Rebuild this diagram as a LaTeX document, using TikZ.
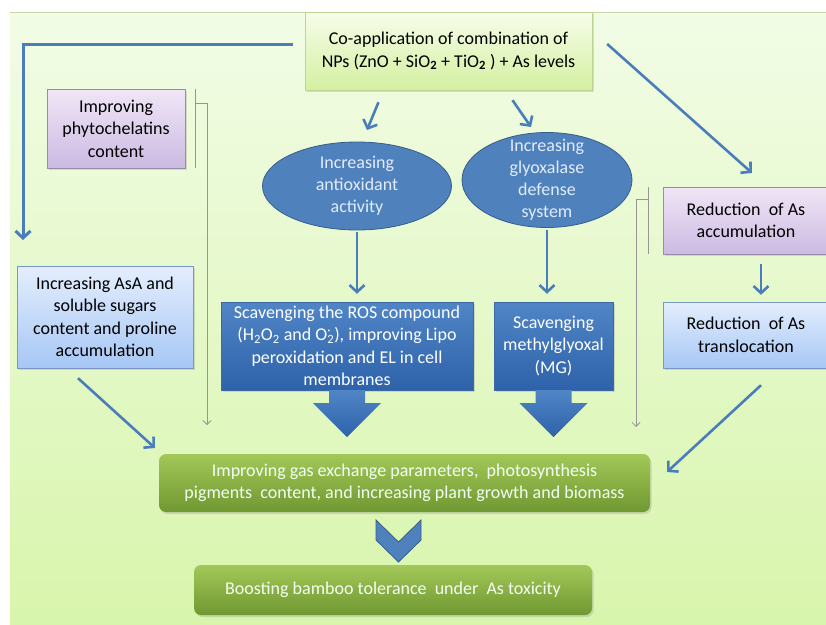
\documentclass[tikz,border=0pt]{standalone}
\usepackage{fontspec}
\setmainfont{Carlito}
\usepackage{xcolor}
\usepackage{tikz}
\usetikzlibrary{shapes.geometric, arrows.meta, positioning, shadows}

\definecolor{bgtop}{RGB}{242,252,230}
\definecolor{bgbottom}{RGB}{216,245,172}
\definecolor{bgedge}{RGB}{200,214,170}
\definecolor{arrowblue}{RGB}{74,126,187}
\definecolor{ovalblue}{RGB}{79,129,189}
\definecolor{ovalline}{RGB}{56,93,138}
\definecolor{deeptop}{RGB}{80,133,198}
\definecolor{deepbottom}{RGB}{46,98,170}
\definecolor{deepline}{RGB}{62,104,165}
\definecolor{srctop}{RGB}{247,253,234}
\definecolor{srcbottom}{RGB}{212,240,160}
\definecolor{srcline}{RGB}{188,212,148}
\definecolor{lilactop}{RGB}{240,230,246}
\definecolor{lilacbottom}{RGB}{204,186,226}
\definecolor{lilacline}{RGB}{150,140,172}
\definecolor{skytop}{RGB}{228,238,253}
\definecolor{skybottom}{RGB}{166,199,245}
\definecolor{skyline}{RGB}{122,150,196}
\definecolor{leaftop}{RGB}{163,200,88}
\definecolor{leafbottom}{RGB}{112,152,50}
\definecolor{thingray}{RGB}{150,150,150}
\definecolor{ovalink}{RGB}{226,236,250}

\tikzstyle{basebox} = [
    rectangle, align=center, inner sep=2pt,
    font=\fontsize{18}{22.5}\selectfont,
    drop shadow={shadow xshift=1.5pt, shadow yshift=-2pt, opacity=0.25}
]
\tikzstyle{sourcebox} = [basebox, draw=srcline, top color=srctop, bottom color=srcbottom]
\tikzstyle{lilacbox} = [basebox, draw=lilacline, top color=lilactop, bottom color=lilacbottom]
\tikzstyle{skybox} = [basebox, draw=skyline, top color=skytop, bottom color=skybottom]
\tikzstyle{deepbox} = [basebox, draw=deepline, top color=deeptop, bottom color=deepbottom, text=white]
\tikzstyle{leafbox} = [basebox, rounded corners=7pt, draw=none, top color=leaftop, bottom color=leafbottom, text=white!95!green]
\tikzstyle{oval} = [ellipse, draw=ovalline, thick, fill=ovalblue, inner sep=0pt]
\tikzstyle{ovaltext} = [align=center, text=ovalink, font=\fontsize{18}{22}\selectfont]
\tikzstyle{flowarrow} = [line width=2.6pt, draw=arrowblue, -{Straight Barb[length=7pt, width=15pt]}]
\tikzstyle{thinline} = [line width=0.8pt, draw=thingray]
\tikzstyle{thinarrow} = [thinline, -{Straight Barb[length=4pt, width=8pt]}]
\tikzstyle{blockarrow} = [top color=deeptop, bottom color=deepbottom]
\tikzstyle{chevron} = [fill=ovalblue, draw=ovalline, thick, line join=miter]

\begin{document}
\begin{tikzpicture}[x=1pt, y=-1pt]
    \useasboundingbox (0,0) rectangle (826,624);
    \shade [top color=bgtop, bottom color=bgbottom] (10,12) rectangle (826,624);
    \draw [bgedge, line width=1pt] (10,12) -- (826,12);

    \node [sourcebox, minimum width=287pt, minimum height=78pt] (coapp) at (448.5,51)
        {Co-application of combination of\\NPs (ZnO + SiO\textsubscript{\textbf{2}} + TiO\textsubscript{\textbf{2}} ) + As levels};
    \node [lilacbox, minimum width=138pt, minimum height=79pt] (pc) at (116,128.5)
        {Improving\\phytochelatins\\content};
    \node [skybox, minimum width=176pt, minimum height=102pt] (asa) at (105,317)
        {Increasing AsA and\\soluble sugars\\content and proline\\accumulation};
    \node [oval, minimum width=189pt, minimum height=88pt,
        label={[ovaltext]center:Increasing\\antioxidant\\activity}] (anti) at (357,186) {};
    \node [oval, minimum width=170pt, minimum height=95pt,
        label={[ovaltext]center:Increasing\\glyoxalase\\defense\\system}] (glyo) at (547,180) {};
    \node [deepbox, minimum width=252pt, minimum height=88pt] (ros) at (347,346)
        {Scavenging the ROS compound\\(H\textsubscript{2}O\textsubscript{2} and O\rlap{\textsuperscript{\textperiodcentered}}\textsubscript{2}), improving Lipo\\peroxidation and EL in cell\\membranes};
    \node [deepbox, minimum width=119pt, minimum height=88pt] (mg) at (553.5,346)
        {Scavenging\\methylglyoxal\\(MG)};
    \node [lilacbox, minimum width=166pt, minimum height=67pt] (redacc) at (746,220.5)
        {Reduction~ of As\\accumulation};
    \node [skybox, minimum width=166pt, minimum height=66pt] (redtrans) at (746,335)
        {Reduction~ of As\\translocation};
    \node [leafbox, minimum width=491pt, minimum height=58pt] (gas) at (404.5,483)
        {Improving gas exchange parameters,~ photosynthesis\\pigments~ content, and increasing plant growth and biomass};
    \node [leafbox, minimum width=398pt, minimum height=50pt] (boost) at (393,590)
        {Boosting bamboo tolerance~ under~ As toxicity};

    \foreach \n in {ros, mg}
        \path [blockarrow] (\n.south) ++(-18,0) -- ++(0,13) -- ++(-16,0) -- ++(34,34)
            -- ++(34,-34) -- ++(-16,0) -- ++(0,-13) -- cycle;
    \coordinate (chev) at (398.5,520);
    \path [chevron] (chev) ++(-22.5,0) -- ++(0,20) -- ++(22.5,22) -- ++(22.5,-22)
        -- ++(0,-20) -- ++(-22.5,22) -- cycle;

    \coordinate (leftend) at (23,240);
    \coordinate (accend) at (752,173);
    \coordinate (antitip) at (367,130);
    \coordinate (glyotip) at (531,127);
    \coordinate (gasright) at (667,472);
    \coordinate (gasleft) at (155,448);
    \coordinate (pcdrop) at (207,425);
    \coordinate (accdrop) at (636,427);

    \draw [flowarrow, line width=3pt, shorten <=12pt] ([yshift=7pt]coapp.west) -| (leftend);
    \draw [flowarrow] ([xshift=15pt, yshift=7pt]coapp.east) -- (accend);
    \draw [flowarrow] ([xshift=-70pt, yshift=-12pt]coapp.south) -- (antitip);
    \draw [flowarrow] ([xshift=64pt, yshift=-10pt]coapp.south) -- (glyotip);
    \draw [flowarrow, shorten <=2pt, shorten >=8pt] (anti.south) -- (anti.south |- ros.north);
    \draw [flowarrow, shorten <=2pt, shorten >=8pt] (glyo.south) -- (glyo.south |- mg.north);
    \draw [flowarrow, shorten <=10pt, shorten >=7pt] ([xshift=15pt]redacc.south) -- ([xshift=15pt]redtrans.north);
    \draw [flowarrow] ([xshift=15pt, yshift=-17pt]redtrans.south) -- (gasright);
    \draw [flowarrow] ([xshift=-27pt, yshift=-10pt]asa.south) -- (gasleft);

    \draw [thinline] ([xshift=10pt]pc.north east) -- ([xshift=10pt]pc.south east);
    \draw [thinarrow] ([xshift=10pt, yshift=-15pt]pc.north east) -| (pcdrop);
    \draw [thinline] ([xshift=-14pt]redacc.north west) -- ([xshift=-14pt]redacc.south west);
    \draw [thinarrow] ([xshift=-14pt, yshift=-13pt]redacc.north west) -| (accdrop);
\end{tikzpicture}
\end{document}
